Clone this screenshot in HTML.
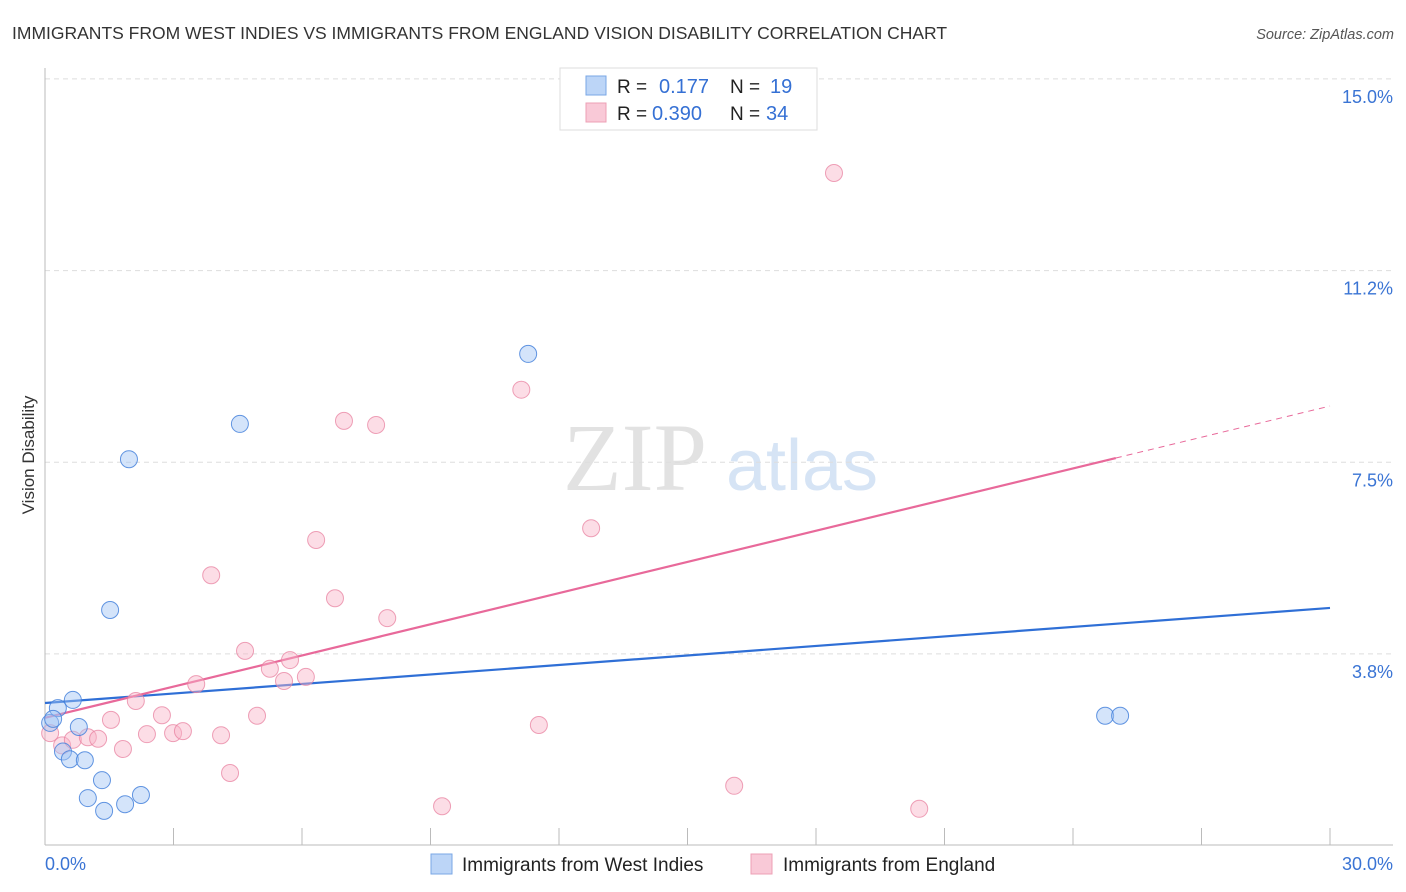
<!DOCTYPE html>
<html><head><meta charset="utf-8"><style>
body{margin:0;background:#fff;font-family:"Liberation Sans",sans-serif;}
svg{display:block}
</style></head><body>
<svg id="chart" width="1406" height="892" xmlns="http://www.w3.org/2000/svg">
<text x="12" y="39" font-size="17.5" fill="#333">IMMIGRANTS FROM WEST INDIES VS IMMIGRANTS FROM ENGLAND VISION DISABILITY CORRELATION CHART</text>
<text x="1394" y="39" font-size="14.5" fill="#555" font-style="italic" text-anchor="end">Source: ZipAtlas.com</text>
<text x="34" y="455" font-size="17" fill="#333" text-anchor="middle" transform="rotate(-90 34 455)">Vision Disability</text>
<g>
<text x="635" y="490" font-size="96" fill="#e2e2e2" font-family="Liberation Serif,serif" text-anchor="middle">ZIP</text>
<text x="802" y="490" font-size="72" fill="#d6e4f5" text-anchor="middle">atlas</text>
</g>
<g id="grid"></g>
<g id="axes"></g>
<g id="lines"></g>
<g id="points"></g>
<g>
<rect x="560" y="68" width="257" height="62" fill="#fff" stroke="#ddd"/>
<rect x="586" y="76" width="20" height="19" fill="#bcd5f7" stroke="#7aa7e6"/>
<rect x="586" y="103" width="20" height="19" fill="#f9c9d7" stroke="#eda0b6"/>
<text x="617" y="93" font-size="19" fill="#222">R =</text>
<text x="659" y="93" font-size="20" fill="#3570d4">0.177</text>
<text x="730" y="93" font-size="19" fill="#222">N =</text>
<text x="770" y="93" font-size="20" fill="#3570d4">19</text>
<text x="617" y="120" font-size="19" fill="#222">R =</text>
<text x="652" y="120" font-size="20" fill="#3570d4">0.390</text>
<text x="730" y="120" font-size="19" fill="#222">N =</text>
<text x="766" y="120" font-size="20" fill="#3570d4">34</text>
</g>
<g>
<rect x="431" y="854" width="21" height="20" fill="#bcd5f7" stroke="#7aa7e6"/>
<text x="462" y="871" font-size="19" fill="#222">Immigrants from West Indies</text>
<text x="463" y="0" font-size="1"></text>
<rect x="751" y="854" width="21" height="20" fill="#f9c9d7" stroke="#eda0b6"/>
<text x="783" y="871" font-size="19" fill="#222">Immigrants from England</text>
</g>
</svg>
<script>
const blueX=[0.12,0.30,0.65,0.19,0.79,0.42,0.58,0.93,1.33,1.00,1.38,1.87,2.24,1.52,1.96,4.55,11.28,24.75,25.10];
const blueY=[2.40,2.69,2.85,2.48,2.32,1.84,1.69,1.67,1.28,0.93,0.68,0.81,0.99,4.61,7.56,8.25,9.62,2.54,2.54];
const pinkX=[0.12,0.40,0.65,1.00,1.24,1.54,1.82,2.12,2.38,2.73,2.99,3.22,3.53,3.88,4.11,4.32,4.67,4.95,5.25,5.58,5.72,6.09,6.33,6.77,6.98,7.73,7.99,9.27,11.12,11.53,12.75,16.09,18.42,20.41];
const pinkY=[2.20,1.96,2.07,2.12,2.09,2.46,1.89,2.83,2.18,2.55,2.20,2.24,3.16,5.29,2.16,1.42,3.81,2.54,3.46,3.22,3.63,3.30,5.98,4.84,8.31,8.23,4.45,0.77,8.92,2.36,6.21,1.17,13.16,0.72];
const blueTrend=[2.79,4.65];   // value at x=0 and x=30
const pinkTrend=[2.50,8.60];
const pinkSolidEnd=25;
const yTicks=[3.75,7.5,11.25,15];
const yTickLabels=["3.8%","7.5%","11.2%","15.0%"];
const xTicks=[3,6,9,12,15,18,21,24,27,30];
const NS="http://www.w3.org/2000/svg";
const X=v=>45+v*(1285/30);
const Y=v=>845.6-v*(575/11.25);
function mk(tag,attrs,parent){const e=document.createElementNS(NS,tag);for(const k in attrs)e.setAttribute(k,attrs[k]);document.getElementById(parent).appendChild(e);return e;}
yTicks.forEach((t,i)=>{
 const l=mk('line',{x1:45,x2:1393,y1:Y(t),y2:Y(t),stroke:'#ddd','stroke-dasharray':'5,4'},'grid');
 
 
 const tx=mk('text',{x:1393,y:Y(t)+24,'font-size':18,fill:'#3a74d4','text-anchor':'end'},'grid');
 tx.textContent=yTickLabels[i];
 
 
});
const ax=mk('line',{x1:45,x2:45,y1:68,y2:845,stroke:'#bbb'},'axes');


const bx=mk('line',{x1:45,x2:1393,y1:845,y2:845,stroke:'#bbb'},'axes');


xTicks.forEach(t=>{
 const l=mk('line',{x1:X(t),x2:X(t),y1:828,y2:845,stroke:'#bbb'},'axes');
 
 
});
const xl0=mk('text',{x:45,y:870,'font-size':18,fill:'#3a74d4'},'axes');xl0.textContent='0.0%';


const xl1=mk('text',{x:1393,y:870,'font-size':18,fill:'#3a74d4','text-anchor':'end'},'axes');xl1.textContent='30.0%';


function circles(xs,ys,fill,stroke,name){
 xs.forEach((x,i)=>{
  const c=mk('circle',{cx:X(x),cy:Y(ys[i]),r:8.5,fill:fill,stroke:stroke,'stroke-width':1},'points');
  
  
 });
}
circles(pinkX,pinkY,'rgba(248,180,200,0.45)','rgba(232,130,160,0.75)','england-point');
circles(blueX,blueY,'rgba(160,196,245,0.45)','rgba(70,130,220,0.85)','west-indies-point');
const at=(tr,x)=>tr[0]+(tr[1]-tr[0])*x/30;
const bl=mk('line',{x1:X(0),y1:Y(blueTrend[0]),x2:X(30),y2:Y(blueTrend[1]),stroke:'#2f6fd6','stroke-width':2.2},'lines');


const pl=mk('line',{x1:X(0),y1:Y(pinkTrend[0]),x2:X(pinkSolidEnd),y2:Y(at(pinkTrend,pinkSolidEnd)),stroke:'#e8699a','stroke-width':2.2},'lines');


const pd=mk('line',{x1:X(pinkSolidEnd),y1:Y(at(pinkTrend,pinkSolidEnd)),x2:X(30),y2:Y(pinkTrend[1]),stroke:'#e8699a','stroke-width':1,'stroke-dasharray':'6,5'},'lines');


</script>
</body></html>
